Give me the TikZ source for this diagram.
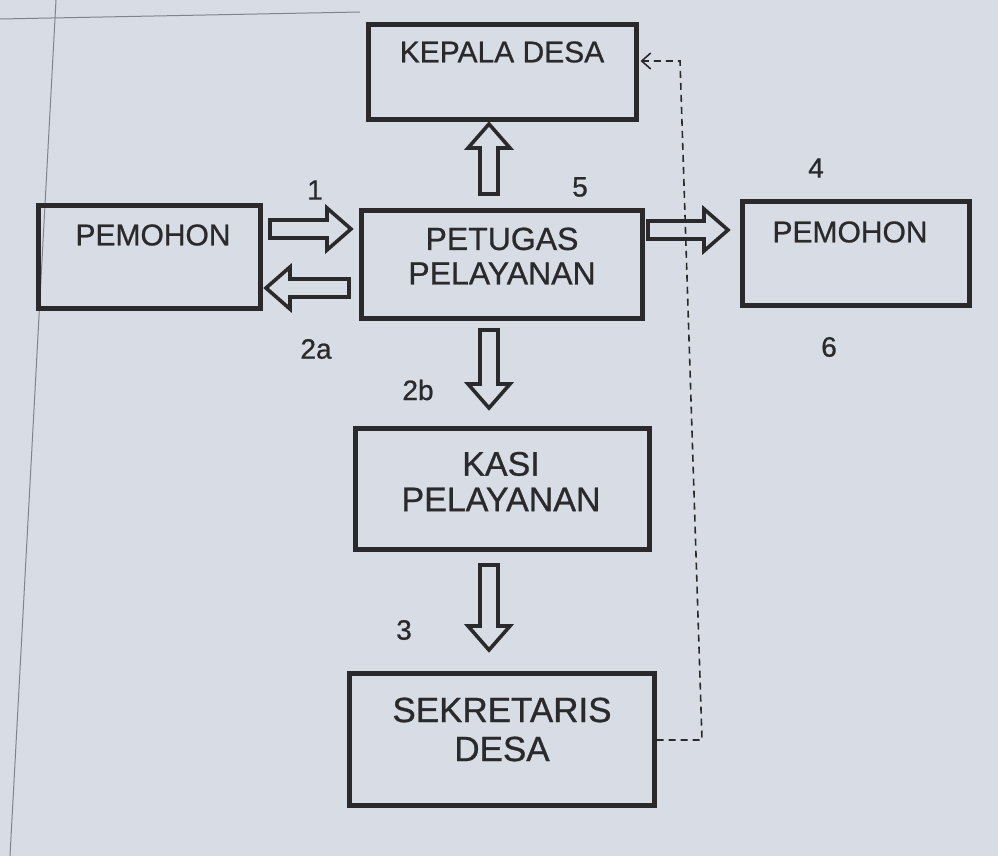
\documentclass[tikz,border=0pt]{standalone}
\usepackage{fontspec}
\setmainfont{Liberation Sans}[FakeBold=0.8]
\usetikzlibrary{calc,arrows.meta}
\definecolor{paper}{HTML}{D8DCE4}
\definecolor{ink}{HTML}{2A2A2D}
\definecolor{edge}{HTML}{80848C}
\tikzset{
  box/.style={draw=ink, line width=5pt, fill=none, inner sep=0pt},
  txt/.style={text=ink, font=\fontsize{30}{35}\selectfont, align=center, inner sep=0pt},
  num/.style={text=ink, font=\fontsize{28}{32}\selectfont, inner sep=0pt},
  fat/.style={draw=ink, line width=3.6pt, line join=miter},
  dashline/.style={draw=ink, line width=1.6pt, dash pattern=on 7pt off 5pt}
}
\newcommand\fatarrow[2]{%
  \coordinate (fa-h) at ($(#2)!24pt!(#1)$);
  \draw[fat] ($(#1)!9pt!90:(#2)$) -- ($(fa-h)!9pt!90:(#2)$) -- ($(fa-h)!21pt!90:(#2)$)
    -- (#2) -- ($(fa-h)!21pt!-90:(#2)$) -- ($(fa-h)!9pt!-90:(#2)$) -- ($(#1)!9pt!-90:(#2)$) -- cycle;}
\begin{document}
\begin{tikzpicture}[x=1pt, y=-1pt]
  \fill[paper] (0,0) rectangle (998,856);
  \useasboundingbox (0,0) rectangle (998,856);
  % page edges in the photo
  \draw[edge, line width=1pt] (0,19) -- (360,12);
  \draw[edge, line width=1pt] (56,0) -- (10,856);

  % boxes
  \node[box, minimum width=268pt, minimum height=95pt]  (kep)  at (502,72.5) {};
  \node[box, minimum width=222pt, minimum height=103pt] (pem1) at (149,256.5) {};
  \node[box, minimum width=281pt, minimum height=108pt] (pet)  at (501.5,264) {};
  \node[box, minimum width=227pt, minimum height=104pt] (pem2) at (855.5,253) {};
  \node[box, minimum width=294pt, minimum height=121pt] (kasi) at (502,488.5) {};
  \node[box, minimum width=305pt, minimum height=132pt] (sek)  at (501.5,739) {};

  % box texts
  \node[txt] (kep-t)  at (502,52)    {KEPALA DESA};
  \node[txt] (pem1-t) at (153,235)   {PEMOHON};
  \node[txt, font=\fontsize{32}{34.5}\selectfont] (pet-t)  at (502,256)   {PETUGAS\\PELAYANAN};
  \node[txt] (pem2-t) at (850,232)   {PEMOHON};
  \node[txt, font=\fontsize{34}{35.5}\selectfont] (kasi-t) at (501,481.5) {KASI\\PELAYANAN};
  \node[txt, font=\fontsize{35}{39}\selectfont] (sek-t)  at (502,729.5) {SEKRETARIS\\DESA};

  % step numbers
  \node[num] (n1)  at (315,190) {1};
  \node[num] (n5)  at (580,187) {5};
  \node[num] (n4)  at (816,168) {4};
  \node[num] (n2a) at (316,349) {2a};
  \node[num] (n6)  at (829,347) {6};
  \node[num] (n2b) at (418,390) {2b};
  \node[num] (n3)  at (404,630) {3};

  % arrow end points
  \coordinate (u-s)  at (489,194);  \coordinate (u-e)  at (489,124);
  \coordinate (a1-s) at (270,229);  \coordinate (a1-e) at (351,229);
  \coordinate (b-s)  at (349,288);  \coordinate (b-e)  at (266,288);
  \coordinate (r-s)  at (648,230);  \coordinate (r-e)  at (728,230);
  \coordinate (d1-s) at (489,330);  \coordinate (d1-e) at (489,408);
  \coordinate (d2-s) at (489,565);  \coordinate (d2-e) at (489,650);

  \fatarrow{u-s}{u-e}
  \fatarrow{a1-s}{a1-e}
  \fatarrow{b-s}{b-e}
  \fatarrow{r-s}{r-e}
  \fatarrow{d1-s}{d1-e}
  \fatarrow{d2-s}{d2-e}

  % dashed feedback line
  \coordinate (c1) at (sek.east |- 0,740);
  \coordinate (c2) at (702,740);
  \coordinate (c3) at (680,61);
  \draw[dashline, -{Straight Barb[length=9pt,width=16pt,line width=1.6pt]}]
    (c1) -- (c2) -- (c3) -- ([xshift=2pt]kep.east |- c3);
\end{tikzpicture}
\end{document}
